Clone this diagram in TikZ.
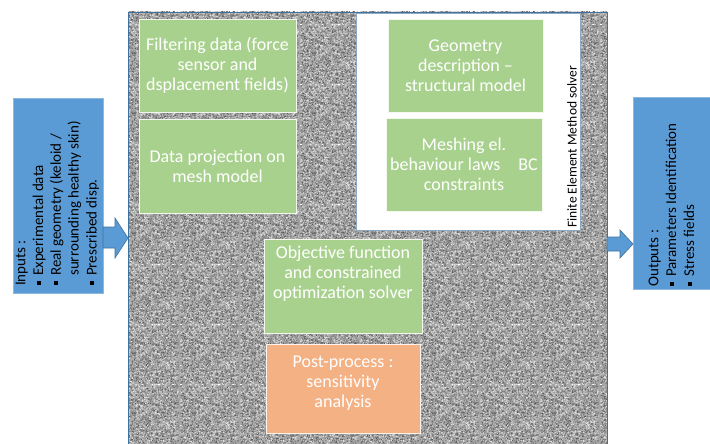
\documentclass[tikz,border=0pt]{standalone}
\usepackage{fontspec}
\setmainfont{Carlito}
\usetikzlibrary{patterns}
\definecolor{bluebox}{HTML}{5B9BD5}
\definecolor{blueedge}{HTML}{41719C}
\definecolor{greenbox}{HTML}{A9D18E}
\definecolor{orangebox}{HTML}{F4B183}
\definecolor{noisebase}{HTML}{A6A6A6}
\definecolor{noisedark}{HTML}{808080}
\definecolor{noisedeep}{HTML}{5E5E5E}
\definecolor{noiselight}{HTML}{C9C9C9}
\definecolor{noisewhite}{HTML}{E2E2E2}
\pgfmathsetseed{11}
\newcommand{\noisedots}[2]{%
  \foreach \i in {1,...,#1}{%
    \pgfmathsetmacro{\rx}{rnd*59}\pgfmathsetmacro{\ry}{rnd*59}%
    \pgfpathrectangle{\pgfpoint{\rx pt}{\ry pt}}{\pgfqpoint{#2}{#2}}%
    \pgfusepath{fill}%
  }}
\pgfdeclarepatternformonly{noiseA}{\pgfqpoint{0pt}{0pt}}{\pgfqpoint{60pt}{60pt}}{\pgfqpoint{60pt}{60pt}}{\noisedots{1100}{1.1pt}}
\pgfdeclarepatternformonly{noiseB}{\pgfqpoint{0pt}{0pt}}{\pgfqpoint{60pt}{60pt}}{\pgfqpoint{60pt}{60pt}}{\noisedots{1100}{1.1pt}}
\pgfdeclarepatternformonly{noiseC}{\pgfqpoint{0pt}{0pt}}{\pgfqpoint{60pt}{60pt}}{\pgfqpoint{60pt}{60pt}}{\noisedots{260}{1.1pt}}
\pgfdeclarepatternformonly{noiseD}{\pgfqpoint{0pt}{0pt}}{\pgfqpoint{60pt}{60pt}}{\pgfqpoint{60pt}{60pt}}{\noisedots{320}{1.1pt}}
\newcommand{\itembul}{\hspace*{1pt}\rule[2.5pt]{4pt}{4pt}\hspace*{5pt}}
\tikzset{
  mainbox/.style={draw=blueedge, line width=0.8pt, fill=noisebase, inner sep=0pt, outer sep=0pt},
  sidebox/.style={fill=bluebox, draw=bluebox!70!white, line width=0.6pt, inner sep=0pt, outer sep=0pt},
  femframe/.style={fill=white, draw=blueedge!60!white, line width=0.6pt, inner sep=0pt, outer sep=0pt},
  gbox/.style={fill=greenbox, draw=white!85!greenbox, line width=0.6pt, inner sep=0pt, outer sep=0pt,
    text=white, align=center, font=\fontsize{18}{20}\selectfont},
  obox/.style={fill=orangebox, draw=white!85!orangebox, line width=0.6pt, inner sep=0pt, outer sep=0pt},
  wtext/.style={text=white, align=center, inner sep=0pt, font=\fontsize{18}{20}\selectfont},
  sidetext/.style={rotate=90, anchor=north west, inner sep=0pt, align=left, text=black,
    font=\fontsize{15}{17.8}\selectfont},
  barrow/.style={fill=bluebox, draw=blueedge, line width=0.6pt, line join=miter},
}
\begin{document}
\begin{tikzpicture}[x=1pt,y=-1pt]
\useasboundingbox (0,0) rectangle (710,444);
\clip (0,0) rectangle (710,444);
\fill[white] (0,0) rectangle (710,444);
% main textured panel
\node[mainbox, minimum width=479pt, minimum height=440pt] (main) at (367.5,232) {};
\fill[pattern=noiseB, pattern color=noiselight] (main.south west) rectangle (main.north east);
\fill[pattern=noiseA, pattern color=noisedark] (main.south west) rectangle (main.north east);
\fill[pattern=noiseD, pattern color=noisewhite] (main.south west) rectangle (main.north east);
\fill[pattern=noiseC, pattern color=noisedeep] (main.south west) rectangle (main.north east);
\draw[blueedge, line width=0.8pt] (main.south west) rectangle (main.north east);
% FEM frame
\node[femframe, minimum width=224pt, minimum height=217pt] (fem) at (468,121.5) {};
\node[rotate=90, anchor=base west, inner sep=0pt, font=\fontsize{13.5}{16}\selectfont] (femlabel) at (576.5,228) {Finite Element Method solver};
% green boxes
\node[gbox, minimum width=157pt, minimum height=93pt] (filt) at (217.5,65.5) {Filtering data (force\\sensor and\\dsplacement fields)};
\node[gbox, minimum width=157pt, minimum height=94pt] (proj) at (217.5,166) {Data projection on\\mesh model};
\node[gbox, minimum width=155pt, minimum height=93pt] (geom) at (465.5,65.5) {Geometry\\description --\\structural model};
\node[gbox, minimum width=156pt, minimum height=93pt] (mesh) at (464,164.5) {Meshing el.\\behaviour laws\hspace{18pt}BC\\constraints};
\node[gbox, minimum width=158pt, minimum height=94pt] (obj) at (343,286) {};
\node[wtext] (objtxt) at (343,274) {Objective function\\and constrained\\optimization solver};
\node[obox, minimum width=154pt, minimum height=89pt] (post) at (343,388.5) {};
\node[wtext] (posttxt) at (343,383) {Post-process :\\sensitivity\\analysis};
% side boxes
\node[sidebox, minimum width=90pt, minimum height=195pt] (inp) at (58,195.5) {};
\node[sidetext] (inptxt) at (15.5,286) {Inputs :\\\itembul Experimental data\\\itembul Real geometry (keloid /\\\hspace*{10pt}surrounding healthy skin)\\\itembul Prescribed disp.};
\node[sidebox, minimum width=80pt, minimum height=192pt] (out) at (673,193) {};
\node[sidetext] (outtxt) at (648.5,287) {Outputs :\\\itembul Parameters Identification\\\itembul Stress fields};
% block arrows
\draw[barrow] ([yshift=-31.5pt]inp.east) -- ++(12,0) -- ++(0,-9) -- ++(13,20) -- ++(-13,20) -- ++(0,-10) -- ++(-12,0) -- cycle;
\draw[barrow] ([yshift=-5pt]main.east) -- ++(13,0) -- ++(0,-7) -- ++(13,14) -- ++(-13,14) -- ++(0,-7) -- ++(-13,0) -- cycle;
\end{tikzpicture}
\end{document}
